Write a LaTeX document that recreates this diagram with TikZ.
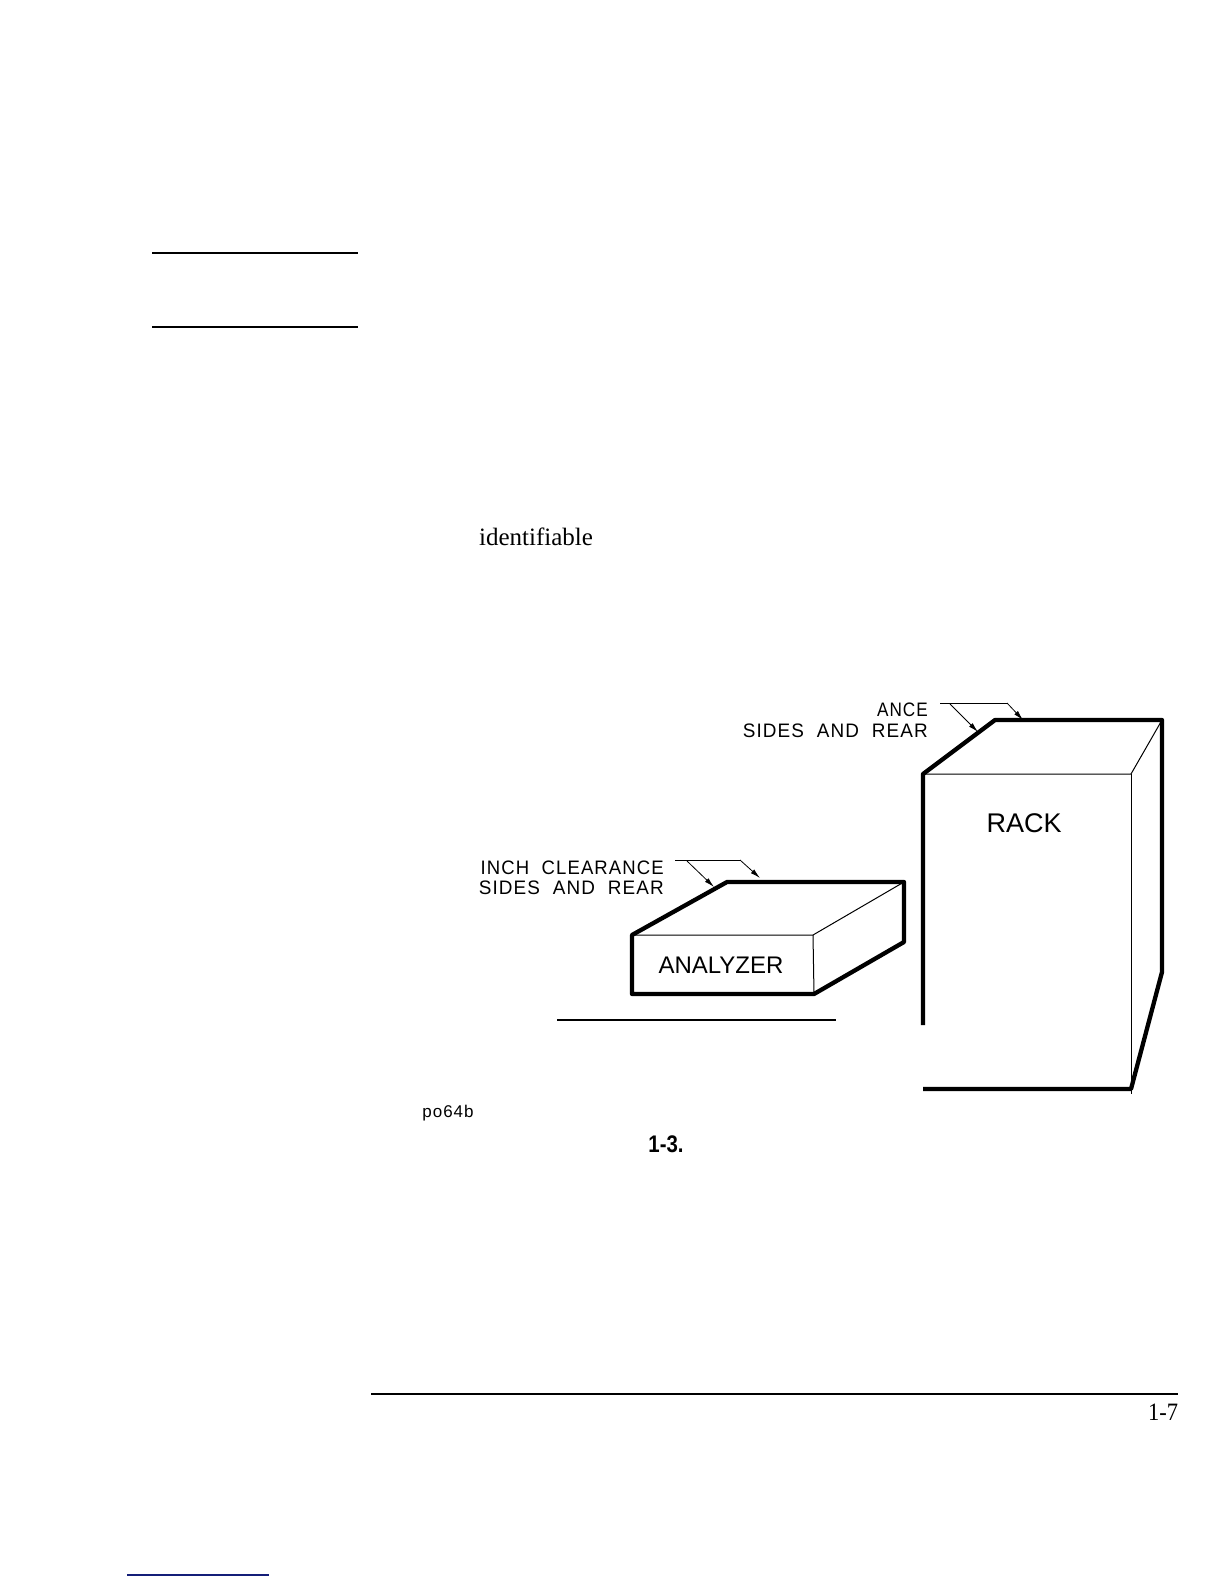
\documentclass[tikz,border=0pt]{standalone}
\usepackage{fontspec}
\setmainfont{Liberation Serif}
\newfontfamily\labelfont[LetterSpace=6,WordSpace=2]{Liberation Sans}
\newfontfamily\namefont{Liberation Sans}
\usetikzlibrary{arrows.meta}
\definecolor{linkblue}{RGB}{20,30,120}
\tikzset{
  heavy/.style={line width=4.3pt},
  thin line/.style={line width=1pt},
  rule/.style={line width=2.4pt},
  leader/.style={line width=0.8pt},
  leader tip/.style={-{Latex[length=10pt,width=5pt]},line width=0.8pt},
  callout/.style={inner sep=0pt,anchor=east,font=\fontsize{19.5}{20}\selectfont\labelfont},
}
\begin{document}
\begin{tikzpicture}[line cap=butt,line join=round,x=1pt,y=-1pt]
\useasboundingbox [fill=white] (0,0) rectangle (1224,1584);

% page rules
\draw [rule] (152,253) -- (358,253);
\draw [rule] (152,327) -- (358,327);
\draw [rule] (371,1394) -- (1178,1394);
\draw [line width=1.2pt, linkblue] (127,1575) -- (269,1575);
\draw [rule] (557,1020) -- (836,1020);

% rack
\coordinate (rackFL) at (923,774);
\coordinate (rackFR) at (1131,774);
\coordinate (rackBL) at (995,720);
\coordinate (rackBR) at (1162,720);
\coordinate (rackRB) at (1162,972);
\coordinate (rackFB) at (1131,1089);
\draw [thin line] (rackFL) -- (rackFR) -- (rackBR);
\draw [thin line] (rackFR) -- (1131,1094);
\draw [heavy] (923,1025) -- (rackFL) -- (rackBL) -- (rackBR) -- (rackRB) -- (rackFB) -- (923,1089);

% analyzer
\coordinate (boxFL) at (632,935);
\coordinate (boxFR) at (813,935);
\coordinate (boxFB) at (814,994);
\coordinate (boxBL) at (727,882);
\coordinate (boxBR) at (904,882);
\coordinate (boxRB) at (904,942);
\draw [thin line] (boxFL) -- (boxFR) -- (boxBR);
\draw [thin line] (boxFR) -- (boxFB);
\draw [heavy] (boxFB) -- (632,994) -- (boxFL) -- (boxBL) -- (boxBR) -- (boxRB) -- cycle;

% labels
\node [inner sep=0pt,font=\fontsize{27}{28}\selectfont\namefont] (rackname) at (1024,823) {RACK};
\node [inner sep=0pt,font=\fontsize{24}{25}\selectfont\namefont] (boxname) at (721,965) {ANALYZER};
\node [callout] (rackone) at (928,710) {\scalebox{.88}[1]{ANCE}};
\node [callout] (racktwo) at (928,731) {\scalebox{.97}[1]{SIDES AND REAR}};
\node [callout] (boxone) at (664,868) {\scalebox{.95}[1]{INCH CLEARANCE}};
\node [callout] (boxtwo) at (664,888) {\scalebox{.97}[1]{SIDES AND REAR}};

% leaders
\coordinate (rackL) at (940,703);
\coordinate (rackK) at (1007,703);
\coordinate (boxL) at (675,860);
\coordinate (boxK) at (740,860);
\draw [leader] (rackL) -- (rackK);
\draw [leader tip] (rackK) -- (1023,720);
\draw [leader tip] (950,704) -- (978,732);
\draw [leader] (boxL) -- (boxK);
\draw [leader tip] (boxK) -- (760,878);
\draw [leader tip] (687,861) -- (714,887);

% page texts
\node [inner sep=0pt,font=\fontsize{17}{18}\selectfont\labelfont] (figcode) at (448,1113) {po64b};
\node [inner sep=0pt,font=\fontsize{24}{25}\selectfont\namefont\bfseries] (fignum) at (666,1144) {\scalebox{.85}[1]{1-3.}};
\node [inner sep=0pt,font=\fontsize{25}{26}\selectfont] (word) at (536,537) {identifiable};
\node [inner sep=0pt,font=\fontsize{25}{26}\selectfont] (pagenum) at (1163,1412) {\scalebox{.9}[1]{1-7}};
\end{tikzpicture}
\end{document}
